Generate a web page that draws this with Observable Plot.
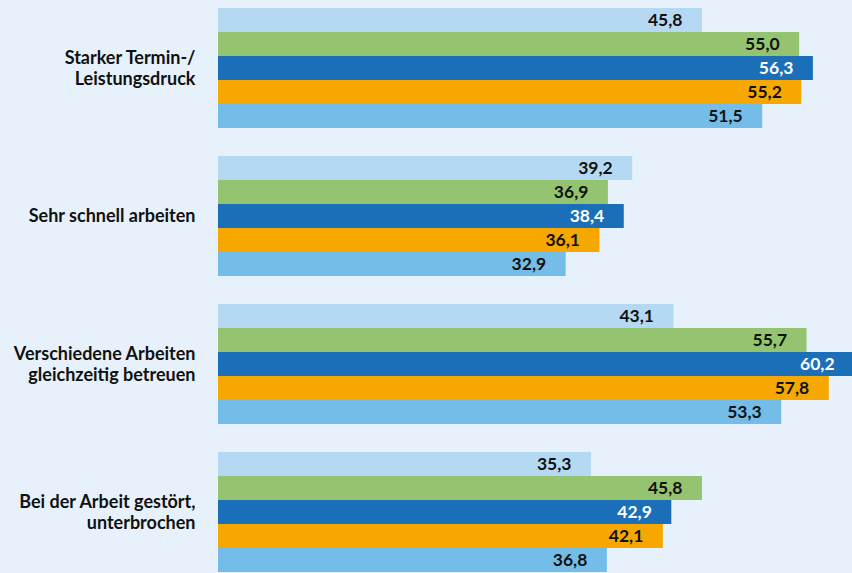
<!DOCTYPE html>
<html>
<head>
<meta charset="utf-8">
<script src="https://cdn.jsdelivr.net/npm/d3@7"></script>
<script src="https://cdn.jsdelivr.net/npm/@observablehq/plot@0.6"></script>
<style>
  html, body { margin: 0; padding: 0; background: #e7f1fb; overflow: hidden; }
  #chart svg { display: block; }
</style>
</head>
<body>
<div id="chart"></div>
<script>
const categories = [
  "Starker Termin-/\nLeistungsdruck",
  "Sehr schnell arbeiten",
  "Verschiedene Arbeiten\ngleichzeitig betreuen",
  "Bei der Arbeit gestört,\nunterbrochen"
];
const series = ["Reihe 1", "Reihe 2", "Reihe 3", "Reihe 4", "Reihe 5"];
const values1 = [45.8, 39.2, 43.1, 35.3];
const values2 = [55.0, 36.9, 55.7, 45.8];
const values3 = [56.3, 38.4, 60.2, 42.9];
const values4 = [55.2, 36.1, 57.8, 42.1];
const values5 = [51.5, 32.9, 53.3, 36.8];
const colors = ["#b6d9f3", "#94c46f", "#1b6fb8", "#f6a800", "#74bde8"];

const allValues = [values1, values2, values3, values4, values5];
const data = [];
categories.forEach((c, ci) => {
  series.forEach((s, si) => {
    data.push({category: c, series: s, value: allValues[si][ci]});
  });
});
const fmt = v => v.toFixed(1).replace(".", ",");

const chart = Plot.plot({
  width: 852,
  height: 574,
  marginLeft: 218,
  marginRight: 0,
  marginTop: 5,
  marginBottom: 0,
  x: {domain: [0, 60], axis: null},
  y: {domain: series, axis: null, padding: 0},
  fy: {domain: categories, axis: null, paddingInner: 0.18, paddingOuter: 0},
  color: {domain: series, range: colors},
  style: {background: "transparent", fontFamily: "Lato, 'Open Sans', sans-serif"},
  marks: [
    Plot.barX(data, {x: "value", y: "series", fy: "category", fill: "series"}),
    Plot.text(data.filter(d => d.series !== series[2]), {
      x: "value", y: "series", fy: "category", text: d => fmt(d.value),
      textAnchor: "end", dx: -20, fill: "#111", fontWeight: "bold", fontSize: 17.5
    }),
    Plot.text(data.filter(d => d.series === series[2]), {
      x: "value", y: "series", fy: "category", text: d => fmt(d.value),
      textAnchor: "end", dx: -20, fill: "white", fontWeight: "bold", fontSize: 17.5
    }),
    Plot.text(categories, {
      fy: d => d, text: d => d, frameAnchor: "left", textAnchor: "end",
      dx: -23, fill: "#111", fontWeight: "bold", fontSize: 18, lineHeight: 1.12
    })
  ]
});
document.getElementById("chart").appendChild(chart);
</script>
</body>
</html>
